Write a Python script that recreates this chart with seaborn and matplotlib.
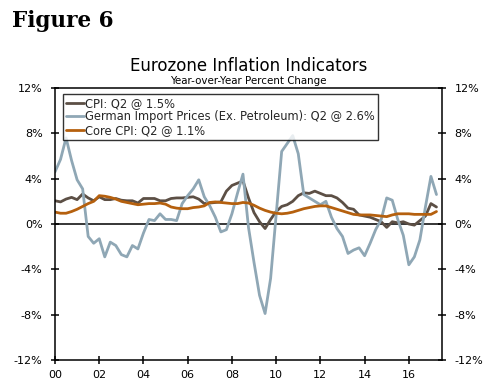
import numpy as np
import pandas as pd
import matplotlib
matplotlib.use("Agg")
import matplotlib.pyplot as plt
import seaborn as sns
from matplotlib.ticker import FuncFormatter

# quarterly, 2000 Q1 .. 2017 Q2
years = [y for y in range(2000, 2018) for _ in range(4)][:70]
quarters = [1, 2, 3, 4] * 18
quarters = quarters[:70]

cpi = [2.05, 1.95, 2.2, 2.35, 2.15, 2.65, 2.3, 2.05,
       2.4, 2.15, 2.15, 2.25, 2.1, 2.05, 2.05, 1.85,
       2.25, 2.25, 2.25, 2.05, 2.05, 2.25, 2.3, 2.3,
       2.35, 2.4, 2.2, 1.8, 1.85, 1.9, 1.95, 2.9,
       3.4, 3.6, 3.8, 2.3, 1.0, 0.2, -0.4, 0.4,
       1.1, 1.55, 1.7, 2.0, 2.5, 2.75, 2.7, 2.9,
       2.7, 2.5, 2.5, 2.3, 1.9, 1.4, 1.3, 0.8,
       0.7, 0.6, 0.4, 0.2, -0.3, 0.2, 0.1, 0.2,
       0.0, -0.1, 0.3, 0.7, 1.8, 1.5]

german = [4.6, 5.7, 7.6, 5.6, 3.9, 3.1, -1.1, -1.7,
          -1.3, -2.9, -1.6, -1.9, -2.7, -2.9, -1.9, -2.2,
          -0.8, 0.4, 0.3, 0.9, 0.4, 0.4, 0.3, 1.8,
          2.5, 3.1, 3.9, 2.4, 1.6, 0.6, -0.7, -0.5,
          0.9, 2.7, 4.4, -0.3, -3.4, -6.3, -7.9, -4.8,
          0.8, 6.4, 7.1, 7.8, 6.2, 2.6, 2.3, 2.0,
          1.7, 2.0, 0.6, -0.4, -1.1, -2.6, -2.3, -2.1,
          -2.8, -1.7, -0.5, 0.4, 2.3, 2.1, 0.4, -1.0,
          -3.6, -2.9, -1.4, 1.5, 4.2, 2.6]

core = [1.05, 0.95, 0.95, 1.1, 1.3, 1.55, 1.8, 2.0,
        2.5, 2.45, 2.35, 2.2, 2.0, 1.9, 1.8, 1.7,
        1.75, 1.8, 1.8, 1.85, 1.75, 1.5, 1.4, 1.35,
        1.35, 1.45, 1.5, 1.6, 1.9, 1.95, 1.9, 1.85,
        1.8, 1.8, 1.9, 1.85, 1.65, 1.4, 1.2, 1.05,
        0.95, 0.9, 0.95, 1.05, 1.2, 1.35, 1.45, 1.55,
        1.6, 1.6, 1.45, 1.3, 1.15, 1.0, 0.85, 0.8,
        0.8, 0.8, 0.75, 0.7, 0.65, 0.8, 0.9, 0.9,
        0.9, 0.85, 0.85, 0.85, 0.85, 1.1]

labels = ["CPI: Q2 @ 1.5%",
          "German Import Prices (Ex. Petroleum): Q2 @ 2.6%",
          "Core CPI: Q2 @ 1.1%"]
colors = ["#5c4f45", "#8fa7b5", "#b5600e"]

t = [y + (q - 1) / 4 for y, q in zip(years, quarters)]
df = pd.concat([
    pd.DataFrame({"t": t, "val": cpi, "series": labels[0]}),
    pd.DataFrame({"t": t, "val": german, "series": labels[1]}),
    pd.DataFrame({"t": t, "val": core, "series": labels[2]}),
])

sns.set_style("white")
plt.rcParams["font.family"] = ["DejaVu Sans"]

fig = plt.figure(figsize=(4.92, 3.87), dpi=100)
ax = fig.add_axes([55 / 492, 1 - 360 / 387, 387 / 492, 272 / 387])

sns.lineplot(data=df, x="t", y="val", hue="series", hue_order=labels,
             palette=colors, linewidth=2.0, ax=ax)

ax.axhline(0, color="black", linewidth=1.1, zorder=1)
ax.set_xlim(2000, 2017.5)
ax.set_ylim(-12, 12)
ax.set_xticks(range(2000, 2017, 2))
ax.set_xticklabels([f"{y % 100:02d}" for y in range(2000, 2017, 2)])
ax.set_yticks(range(-12, 13, 4))
ax.yaxis.set_major_formatter(FuncFormatter(lambda v, p: f"{v:.0f}%"))
ax.set_xlabel("")
ax.set_ylabel("")

for s in ax.spines.values():
    s.set_color("black")
    s.set_linewidth(1.1)

ax.tick_params(axis="y", which="both", left=True, right=True,
               labelleft=True, labelright=True, direction="inout",
               length=6, width=1.1, labelsize=8, pad=6, colors="black")
ax.tick_params(axis="x", bottom=True, direction="inout", length=6,
               width=1.1, labelsize=8, pad=4, colors="black")

leg = ax.legend(loc="upper left", bbox_to_anchor=(8 / 387, 1 - 6 / 272),
                borderaxespad=0, frameon=True, fancybox=False, fontsize=8.3,
                handlelength=1.6, handletextpad=0.1, labelspacing=0.05,
                borderpad=0.25, title=None)
leg.get_frame().set_edgecolor("black")
leg.get_frame().set_linewidth(1.0)
for line in leg.get_lines():
    line.set_linewidth(2.0)

fig.text(12 / 492, 1 - 10 / 387, "Figure 6", fontsize=15.5, fontweight="bold",
         family="DejaVu Serif", va="top", ha="left", color="black")
fig.text(248.5 / 492, 1 - 71 / 387, "Eurozone Inflation Indicators",
         fontsize=12, ha="center", va="baseline", color="black")
fig.text(248.5 / 492, 1 - 84.5 / 387, "Year-over-Year Percent Change",
         fontsize=7.4, ha="center", va="baseline", color="black")

fig.savefig("out.png", dpi=100)
